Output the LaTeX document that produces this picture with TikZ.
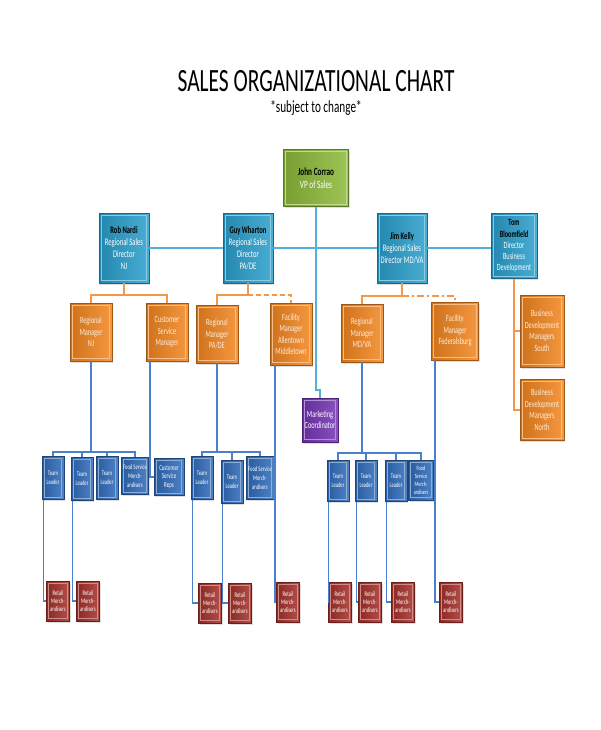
\documentclass[tikz,border=0pt]{standalone}
\usepackage{fontspec}
\setmainfont{Carlito}
\newfontfamily\cnd[FakeStretch=0.66]{Carlito}
\usetikzlibrary{shadows}

\definecolor{vpgreen}{HTML}{8DBA3A}
\definecolor{dircyan}{HTML}{2A9FCC}
\definecolor{mgrorange}{HTML}{F3861F}
\definecolor{mktpurple}{HTML}{7434B4}
\definecolor{teamblue}{HTML}{2F6CBA}
\definecolor{retailred}{HTML}{A5302A}
\definecolor{linecyan}{HTML}{4FB3D9}
\definecolor{lineorange}{HTML}{F79646}
\definecolor{lineblue}{HTML}{4A7FCB}

\newcommand\bossname[1]{{\bfseries\color{black}#1}}

\tikzset{
    cbox/.style={rectangle, align=center, inner sep=0pt, text=white,
        draw=#1!65!black, line width=0.6pt,
        left color=#1!85!black, middle color=#1, right color=#1!85!white,
        drop shadow={opacity=0.25, shadow xshift=1.2pt, shadow yshift=-1.5pt},
        path picture={\draw[#1!55!white, line width=0.7pt]
            ([shift={(2.2pt,-2.2pt)}]path picture bounding box.north west) rectangle
            ([shift={(-2.2pt,2.2pt)}]path picture bounding box.south east);}},
    vpbox/.style={cbox=vpgreen, minimum width=65pt, minimum height=57pt,
        font=\cnd\fontsize{11}{13}\selectfont},
    dirbox/.style={cbox=dircyan, minimum width=50pt, minimum height=70pt,
        font=\cnd\fontsize{10}{12}\selectfont},
    mgrbox/.style={cbox=mgrorange, minimum width=42pt, minimum height=58pt,
        font=\cnd\fontsize{9.5}{11.5}\selectfont, text=white!85!mgrorange},
    mktbox/.style={cbox=mktpurple, minimum width=36pt, minimum height=44pt,
        font=\cnd\fontsize{9.5}{11}\selectfont},
    teambox/.style={cbox=teamblue, minimum width=22pt, minimum height=43pt,
        font=\cnd\fontsize{7}{9}\selectfont},
    retailbox/.style={cbox=retailred, minimum width=23pt, minimum height=40pt,
        font=\cnd\fontsize{7}{8}\selectfont},
    cyanline/.style={draw=linecyan, line width=2.2pt},
    orangeline/.style={draw=lineorange, line width=2pt},
    blueline/.style={draw=lineblue, line width=1.8pt}
}

\begin{document}
\begin{tikzpicture}[x=1pt,y=-1pt]
    \fill[white] (0,0) rectangle (600,730);
    \useasboundingbox (0,0) rectangle (600,730);
    %% title
    \node[anchor=base, font=\cnd\fontsize{32.5}{36}\selectfont] (title) at (316,92) {SALES ORGANIZATIONAL CHART};
    \node[anchor=base, font=\cnd\fontsize{17}{20}\selectfont] (subtitle) at (316,113) {*subject to change*};
    %% vp and directors
    \node[vpbox] (vp) at (316,178) {\bossname{John Corrao}\\VP of Sales};
    \node[dirbox] (rob) at (124,248) {\bossname{Rob Nardi}\\Regional Sales\\Director\\NJ};
    \node[dirbox] (guy) at (248,248) {\bossname{Guy Wharton}\\Regional Sales\\Director\\PA/DE};
    \node[dirbox] (jim) at (402,248) {\bossname{Jim Kelly}\\Regional Sales\\Director MD/VA};
    \node[dirbox, minimum width=46pt, minimum height=65pt, font=\cnd\fontsize{9.5}{11.3}\selectfont] (tom) at (514,246)
        {\bossname{Tom}\\\bossname{Bloomfield}\\Director\\Business\\Development};
    %% managers
    \node[mgrbox] (nj) at (91,332) {Regional\\Manager\\NJ};
    \node[mgrbox] (csm) at (167,332) {Customer\\Service\\Manager};
    \node[mgrbox] (pade) at (217,334) {Regional\\Manager\\PA/DE};
    \node[mgrbox, minimum height=62pt] (facat) at (291,334) {Facility\\Manager\\Allentown\\Middletown};
    \node[mgrbox] (mdva) at (362,333) {Regional\\Manager\\MD/VA};
    \node[mgrbox, minimum width=47pt] (facfb) at (455,331) {Facility\\Manager\\Federalsburg};
    \node[mgrbox, minimum width=44pt, minimum height=72pt] (bds) at (542,331) {Business\\Development\\Managers\\South};
    \node[mgrbox, minimum width=44pt, minimum height=61pt] (bdn) at (542,410) {Business\\Development\\Managers\\North};
    \node[mktbox] (mkt) at (320,420) {Marketing\\Coordinator};
    %% team row
    \foreach \n/\x/\y in {t1/53/478, t2/82/479, t3/107/478, t4/202/478, t5/232/482}
        \node[teambox] (\n) at (\x,\y) {Team\\Leader};
    \foreach \n/\x in {t6/338, t7/366, t8/396}
        \node[teambox, minimum height=41pt] (\n) at (\x,481) {Team\\Leader};
    \node[teambox, minimum width=27pt, minimum height=37pt] (fs1) at (135,476) {Food Service\\Merch-\\andisers};
    \node[teambox, minimum width=30pt, minimum height=37pt, font=\cnd\fontsize{7.5}{8.5}\selectfont] (csr) at (169,477) {Customer\\Service\\Reps};
    \node[teambox, minimum width=28pt] (fs2) at (260,478) {Food Service\\Merch-\\andisers};
    \node[teambox, minimum width=25pt, minimum height=40pt, font=\cnd\fontsize{6.5}{8}\selectfont] (fs3) at (421,480) {Food\\Service\\Merch-\\andisers};
    %% retail row
    \foreach \n/\x/\y in {r1/58/601, r2/88/601, r3/210/603, r4/240/603, r5/288/602, r6/340/602, r7/370/602, r8/403/602, r9/451/602}
        \node[retailbox] (\n) at (\x,\y) {Retail\\Merch-\\andisers};
    %% cyan lines
    \draw[cyanline] (rob.east) -- (guy.west);
    \draw[cyanline] (guy.east) -- (jim.west);
    \draw[cyanline] (jim.east) -- (jim.east -| tom.west);
    \draw[cyanline] (vp.south) |- ([yshift=8pt]mkt.north) -- (mkt.north);
    %% orange lines
    \draw[orangeline] (rob.south) -- ++(0,12) -| (nj.north);
    \draw[orangeline] (rob.south) -- ++(0,12) -| (csm.north);
    \draw[orangeline] (guy.south) -- ++(0,12) -| (pade.north);
    \draw[orangeline, dash pattern=on 5pt off 3pt] (guy.south) ++(0,12) -| (facat.north);
    \draw[orangeline] (jim.south) -- ++(0,13) -| (mdva.north);
    \draw[orangeline, dash pattern=on 7pt off 3pt on 2pt off 3pt] (jim.south) ++(0,13) -| (facfb.north);
    \draw[orangeline] (tom.south) |- (bds.west);
    \draw[orangeline] (tom.south) |- (bdn.west);
    %% blue lines
    \coordinate (njbar) at (91,452);
    \coordinate (padebar) at (217,452);
    \coordinate (mdvabar) at (362,453);
    \foreach \t in {t1,t2,t3,fs1} \draw[blueline] (nj.south) -- (njbar) -| (\t.north);
    \foreach \t in {t4,t5,fs2} \draw[blueline] (pade.south) -- (padebar) -| (\t.north);
    \foreach \t in {t6,t7,t8,fs3} \draw[blueline] (mdva.south) -- (mdvabar) -| (\t.north);
    \draw[blueline] ([xshift=4pt]csm.south west) |- (csr.west);
    \draw[blueline] ([xshift=5pt]facat.south west) |- (r5.west);
    \draw[blueline] ([xshift=4pt]facfb.south west) |- (r9.west);
    \foreach \t/\r in {t1/r1, t2/r2, t4/r3, t5/r4, t6/r6, t7/r7, t8/r8}
        \draw[blueline, line width=1.5pt] ([xshift=2pt]\t.south west) |- (\r.west);
\end{tikzpicture}
\end{document}
